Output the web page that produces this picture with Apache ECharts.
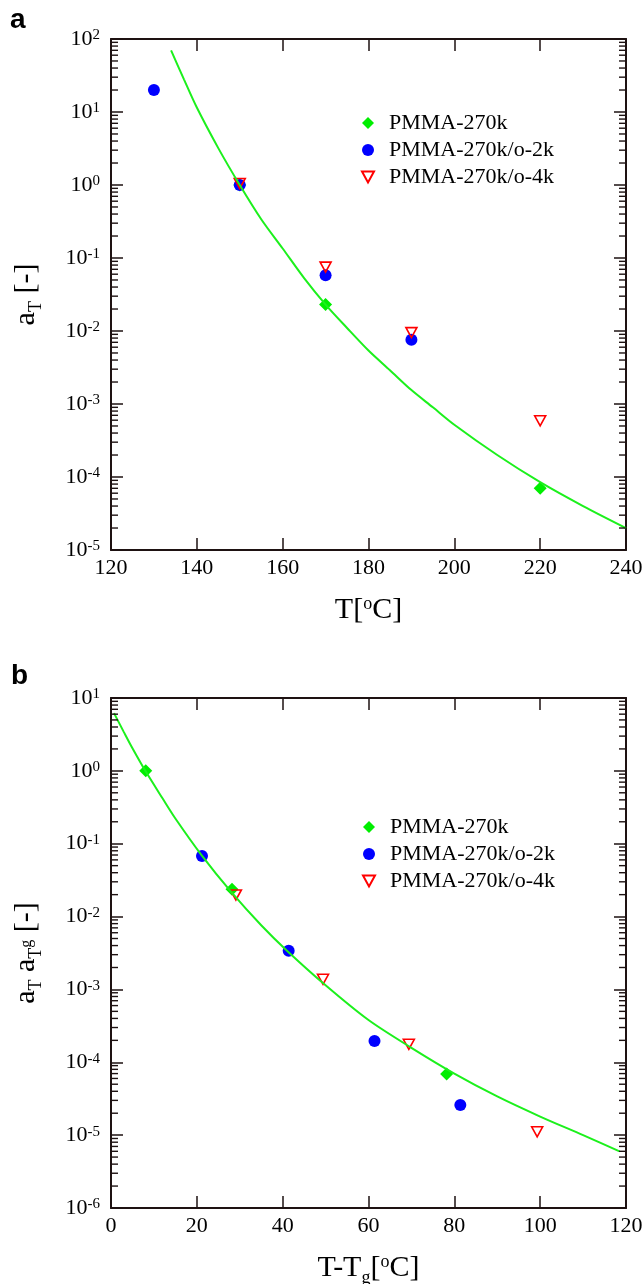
<!DOCTYPE html>
<html>
<head>
<meta charset="utf-8">
<script src="https://cdn.jsdelivr.net/npm/echarts@6/dist/echarts.min.js"></script>
<style>html,body{margin:0;padding:0;background:#fff;}#c{width:644px;height:1284px;}</style>
</head>
<body>
<div id="c"></div>
<script>
// ---------- Panel a data ----------
const curveA_T = [134, 137, 140, 145, 150, 155, 160, 165, 170, 175, 180, 185, 190, 195, 200, 210, 220, 230, 240];
const curveA_v = [70, 28, 11.5, 3.2, 1.0, 0.34, 0.135, 0.053, 0.023, 0.011, 5.4e-3, 2.9e-3, 1.55e-3, 9.0e-4, 5.2e-4, 2.0e-4, 8.5e-5, 4.0e-5, 2.0e-5];
const greenA_T = [150, 170, 220];
const greenA_v = [1.0, 0.023, 7.0e-5];
const blueA_T = [130, 150, 170, 190];
const blueA_v = [20, 1.0, 0.058, 0.0076];
const redA_T = [150, 170, 190, 220];
const redA_v = [1.05, 0.075, 0.0095, 5.9e-4];

// ---------- Panel b data ----------
const curveB_x = [0.7, 3, 5, 8, 12, 15, 21, 28, 35, 41, 50, 60, 70, 80, 90, 100, 110, 118.5];
const curveB_v = [6.2, 3.4, 2.04, 1.0, 0.42, 0.222, 0.071, 0.0218, 0.0076, 0.0034, 1.14e-3, 3.8e-4, 1.58e-4, 7.0e-5, 3.4e-5, 1.8e-5, 1.0e-5, 6.0e-6];
const greenB_x = [8.1, 28.2, 78.2];
const greenB_v = [1.0, 0.0237, 6.9e-5];
const blueB_x = [21.2, 41.4, 61.4, 81.4];
const blueB_v = [0.068, 0.0034, 1.96e-4, 2.6e-5];
const redB_x = [29.1, 49.4, 69.4, 99.3];
const redB_v = [0.0198, 0.00138, 1.77e-4, 1.11e-5];

const seriesNames = ['PMMA-270k', 'PMMA-270k/o-2k', 'PMMA-270k/o-4k'];

// axis ranges
const xA = {min: 120, max: 240, interval: 20};
const xB = {min: 0, max: 120, interval: 20};
const yA = {min: 1e-5, max: 1e2, lo: -5, hi: 2};
const yB = {min: 1e-6, max: 1e1, lo: -6, hi: 1};

function minorValues(lo, hi) {
  const out = [];
  for (let k = lo; k < hi; k++) {
    for (let m = 2; m <= 9; m++) out.push(+(m * Math.pow(10, k)).toPrecision(3));
  }
  return out;
}

const FONT = 'Liberation Serif';
const AX = '#1e1212';
const zip = (a, b) => a.map((v, i) => [v, b[i]]);
const TRI_DOWN = 'path://M0,0L10,0L5,9Z';

const nameRich = {
  b: {fontSize: 30, lineHeight: 30, verticalAlign: 'top', fontFamily: FONT, color: '#000'},
  s: {fontSize: 18, lineHeight: 18, padding: [16, 0, 0, 0], verticalAlign: 'top', fontFamily: FONT, color: '#000'},
  p: {fontSize: 18, lineHeight: 18, verticalAlign: 'top', fontFamily: FONT, color: '#000'},
  g: {fontSize: 16, lineHeight: 16, padding: [8, 0, 0, 0], verticalAlign: 'top', fontFamily: FONT, color: '#000'}
};
const labelRich = {
  b: {fontSize: 22, lineHeight: 22, verticalAlign: 'top', fontFamily: FONT, color: '#000'},
  s: {fontSize: 15, lineHeight: 15, verticalAlign: 'top', fontFamily: FONT, color: '#000'}
};

function xAxes(gridIndex, r, name) {
  return [
    {
      type: 'value', gridIndex, position: 'bottom', min: r.min, max: r.max, interval: r.interval,
      axisLine: {show: true, onZero: false, lineStyle: {color: AX, width: 2}},
      axisTick: {show: true, inside: true, length: 12, lineStyle: {color: AX, width: 1.5}},
      axisLabel: {show: true, margin: 7, fontSize: 22, fontFamily: FONT, color: '#000'},
      splitLine: {show: false},
      name, nameLocation: 'middle', nameGap: 45, nameTextStyle: {rich: nameRich}
    },
    {
      type: 'value', gridIndex, position: 'top', min: r.min, max: r.max, interval: r.interval,
      axisLine: {show: true, onZero: false, lineStyle: {color: AX, width: 2}},
      axisTick: {show: true, inside: true, length: 12, lineStyle: {color: AX, width: 1.5}},
      axisLabel: {show: false}, splitLine: {show: false}
    }
  ];
}

function yAxes(gridIndex, r, name) {
  return [
    {
      type: 'log', gridIndex, position: 'left', min: r.min, max: r.max, interval: 1, logBase: 10,
      axisLine: {show: true, onZero: false, lineStyle: {color: AX, width: 2}},
      axisTick: {show: true, inside: true, length: 12, lineStyle: {color: AX, width: 1.5}},
      axisLabel: {
        show: true, margin: 11,
        formatter: v => '{b|10}{s|' + Math.round(Math.log10(v)) + '}',
        rich: labelRich
      },
      splitLine: {show: false}, minorTick: {show: false},
      name, nameLocation: 'middle', nameGap: 70, nameTextStyle: {rich: nameRich}
    },
    {
      type: 'log', gridIndex, position: 'right', min: r.min, max: r.max, interval: 1, logBase: 10,
      axisLine: {show: true, onZero: false, lineStyle: {color: AX, width: 2}},
      axisTick: {show: true, inside: true, length: 12, lineStyle: {color: AX, width: 1.5}},
      axisLabel: {show: false}, splitLine: {show: false}
    }
  ];
}

// minor log ticks (2..9 per decade) on the left and right frame, placed through the axis scales
function minorTickSeries(xi, yi, xr, yr) {
  return {
    type: 'custom', xAxisIndex: xi, yAxisIndex: yi, silent: true, clip: false, z: 5,
    data: minorValues(yr.lo, yr.hi).map(v => [xr.min, v]),
    renderItem: (params, api) => {
      const v = api.value(1);
      const pL = api.coord([xr.min, v]);
      const pR = api.coord([xr.max, v]);
      const st = {stroke: AX, lineWidth: 1.4};
      return {
        type: 'group',
        children: [
          {type: 'line', shape: {x1: pL[0], y1: pL[1], x2: pL[0] + 7, y2: pL[1]}, style: st},
          {type: 'line', shape: {x1: pR[0] - 7, y1: pR[1], x2: pR[0], y2: pR[1]}, style: st}
        ]
      };
    }
  };
}

function panelSeries(xi, yi, curve, green, blue, red) {
  return [
    {name: seriesNames[0], type: 'scatter', xAxisIndex: xi, yAxisIndex: yi, data: green,
     symbol: 'diamond', symbolSize: 13, itemStyle: {color: '#00ee00', opacity: 1}},
    {name: seriesNames[1], type: 'scatter', xAxisIndex: xi, yAxisIndex: yi, data: blue,
     symbol: 'circle', symbolSize: 12, itemStyle: {color: '#0000ff', opacity: 1}},
    {name: seriesNames[2], type: 'scatter', xAxisIndex: xi, yAxisIndex: yi, data: red,
     symbol: TRI_DOWN, symbolSize: [11, 10],
     itemStyle: {color: 'rgba(255,255,255,0)', borderColor: '#ff0000', borderWidth: 1.6, opacity: 1}},
    {name: 'fit', type: 'line', xAxisIndex: xi, yAxisIndex: yi, data: curve,
     showSymbol: false, symbol: 'none', smooth: 0.3,
     lineStyle: {color: '#1cf01c', width: 2}, z: 3, silent: true}
  ];
}

const legendCommon = {
  orient: 'vertical', padding: 0, itemGap: 5, itemWidth: 12, itemHeight: 12,
  data: seriesNames, selectedMode: false,
  textStyle: {fontSize: 22, lineHeight: 22, fontFamily: FONT, color: '#000', padding: [0, 0, 0, 10]}
};

const option = {
  animation: false,
  backgroundColor: '#fff',
  grid: [
    {left: 111, top: 39, width: 515, height: 511, outerBoundsMode: 'none', containLabel: false},
    {left: 111, top: 698, width: 515, height: 510, outerBoundsMode: 'none', containLabel: false}
  ],
  legend: [
    Object.assign({left: 361, top: 112}, legendCommon),
    Object.assign({left: 362, top: 816}, legendCommon)
  ],
  xAxis: [].concat(
    xAxes(0, xA, '{b|T[}{p|o}{b|C]}'),
    xAxes(1, xB, '{b|T-T}{s|g}{b|[}{p|o}{b|C]}')
  ),
  yAxis: [].concat(
    yAxes(0, yA, '{b|a}{s|T}{b| [-]}'),
    yAxes(1, yB, '{b|a}{s|T}{b| a}{s|T}{g|g}{b| [-]}')
  ),
  graphic: [
    {type: 'text', left: 10, top: 6, style: {text: 'a', font: 'bold 28px "Liberation Sans"', fill: '#000'}},
    {type: 'text', left: 11, top: 662, style: {text: 'b', font: 'bold 28px "Liberation Sans"', fill: '#000'}}
  ],
  series: [].concat(
    [minorTickSeries(0, 0, xA, yA)],
    panelSeries(0, 0, zip(curveA_T, curveA_v), zip(greenA_T, greenA_v), zip(blueA_T, blueA_v), zip(redA_T, redA_v)),
    [minorTickSeries(2, 2, xB, yB)],
    panelSeries(2, 2, zip(curveB_x, curveB_v), zip(greenB_x, greenB_v), zip(blueB_x, blueB_v), zip(redB_x, redB_v))
  )
};

const chart = echarts.init(document.getElementById('c'), null, {renderer: 'canvas'});
chart.setOption(option);
</script>
</body>
</html>
